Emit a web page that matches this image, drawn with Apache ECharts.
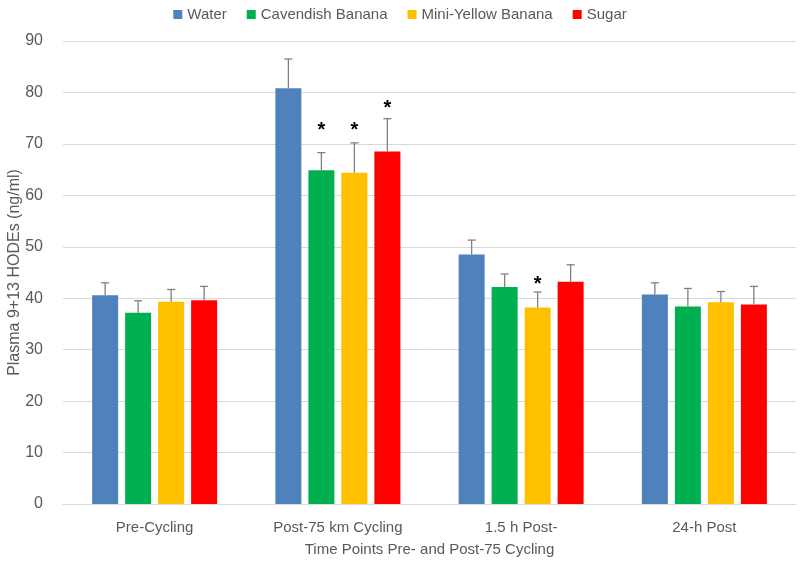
<!DOCTYPE html>
<html><head><meta charset="utf-8">
<script src="https://cdn.jsdelivr.net/npm/echarts@6/dist/echarts.min.js"></script>
<style>html,body{margin:0;padding:0;background:#fff}#c{width:800px;height:562px}</style>
</head><body><div id="c"></div>
<script>
var categories = ['Pre-Cycling', 'Post-75 km Cycling', '1.5 h Post-', '24-h Post'];
var seriesNames = ['Water', 'Cavendish Banana', 'Mini-Yellow Banana', 'Sugar'];
var water = [40.6, 80.8, 48.5, 40.7];
var cavendish = [37.2, 64.9, 42.2, 38.4];
var miniYellow = [39.3, 64.4, 38.2, 39.2];
var sugar = [39.6, 68.5, 43.2, 38.8];
var waterErr = [2.4, 5.7, 2.8, 2.3];
var cavendishErr = [2.3, 3.4, 2.5, 3.5];
var miniYellowErr = [2.4, 5.8, 3.0, 2.1];
var sugarErr = [2.7, 6.4, 3.3, 3.5];
// asterisk marks (value where the star sits, null = none)
var cavendishSig = [null, 73.2, null, null];
var miniYellowSig = [null, 73.2, 43.3, null];
var sugarSig = [null, 77.5, null, null];
var waterSig = [null, null, null, null];
var yTicks = {min: 0, max: 90, interval: 10};

var colors = ['#4F81BD', '#00B050', '#FFC000', '#FF0000'];
var means = [water, cavendish, miniYellow, sugar];
var errs = [waterErr, cavendishErr, miniYellowErr, sugarErr];
var sigs = [waterSig, cavendishSig, miniYellowSig, sugarSig];
var BW = 26, GAP = 7;
var offsets = [-1.5, -0.5, 0.5, 1.5].map(function (k) { return k * (BW + GAP); });
var font = 'Liberation Sans, sans-serif';

var series = [];
seriesNames.forEach(function (n, i) {
  series.push({
    name: n, type: 'bar', barWidth: BW, barGap: (GAP / BW * 100) + '%',
    itemStyle: {color: colors[i]}, data: means[i], z: 2
  });
});
seriesNames.forEach(function (n, i) {
  var data = categories.map(function (c, j) { return [j, means[i][j], means[i][j] + errs[i][j], sigs[i][j]]; });
  series.push({
    type: 'custom', name: n + ' err', z: 3, silent: true,
    data: data,
    encode: {x: 0, y: [1, 2]},
    renderItem: function (params, api) {
      var j = api.value(0);
      var lo = api.coord([j, api.value(1)]);
      var hi = api.coord([j, api.value(2)]);
      var x = lo[0] + offsets[i];
      var children = [
        {type: 'line', shape: {x1: x, y1: lo[1], x2: x, y2: hi[1]}, style: {stroke: '#808080', lineWidth: 1.3}},
        {type: 'line', shape: {x1: x - 4, y1: hi[1], x2: x + 4, y2: hi[1]}, style: {stroke: '#808080', lineWidth: 1.3}}
      ];
      var s = api.value(3);
      if (s !== null && !isNaN(s) && s > 0) {
        var p = api.coord([j, s]);
        children.push({type: 'text', style: {x: x, y: p[1] + 3, text: '*', fill: '#000', font: 'bold 20px Liberation Sans, sans-serif', align: 'center', verticalAlign: 'middle'}});
      }
      return {type: 'group', children: children};
    }
  });
});

var chart = echarts.init(document.getElementById('c'));
chart.setOption({
  animation: false,
  textStyle: {fontFamily: font},
  legend: {
    data: seriesNames, top: 2, left: 'center', itemWidth: 9, itemHeight: 9, itemGap: 20,
    icon: 'rect', textStyle: {color: '#595959', fontSize: 15, fontFamily: font}
  },
  grid: {left: 63, right: 4, top: 41, bottom: 58, outerBoundsMode: 'none', containLabel: false},
  xAxis: {
    type: 'category', data: categories,
    axisLine: {lineStyle: {color: '#d9d9d9', width: 1}},
    axisTick: {show: false},
    axisLabel: {color: '#595959', fontSize: 15, margin: 16, fontFamily: font},
    name: 'Time Points Pre- and Post-75 Cycling', nameLocation: 'middle', nameGap: 38,
    nameMoveOverlap: false,
    nameTextStyle: {color: '#595959', fontSize: 15, fontFamily: font}
  },
  yAxis: {
    type: 'value', min: yTicks.min, max: yTicks.max, interval: yTicks.interval,
    axisLine: {show: false}, axisTick: {show: false},
    splitLine: {lineStyle: {color: '#d9d9d9', width: 1}},
    axisLabel: {color: '#595959', fontSize: 16, margin: 20, fontFamily: font},
    name: 'Plasma 9+13 HODEs (ng/ml)', nameLocation: 'middle', nameGap: 40, nameRotate: 90,
    nameMoveOverlap: false,
    nameTextStyle: {color: '#595959', fontSize: 16, fontFamily: font}
  },
  series: series
});
</script></body></html>
